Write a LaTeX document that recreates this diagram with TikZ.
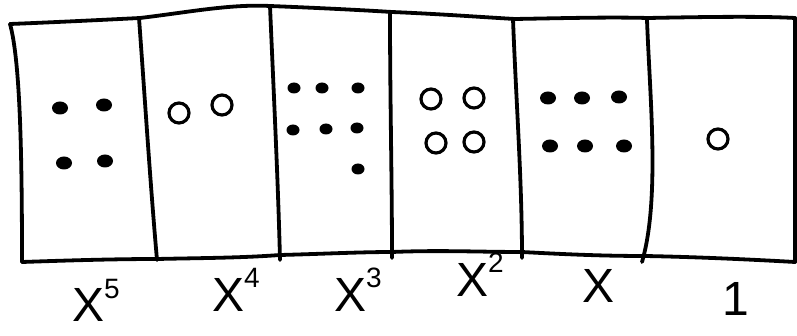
\documentclass[tikz,border=0pt]{standalone}
\usepackage{fontspec}
\setmainfont{Liberation Sans}
\usetikzlibrary{shapes.geometric}
\tikzset{
  ink/.style={line width=3.8pt, line cap=round, line join=round},
  fdot/.style={ellipse, fill=black, minimum width=16pt, minimum height=13pt, inner sep=0pt},
  sdot/.style={ellipse, fill=black, minimum width=13pt, minimum height=11pt, inner sep=0pt},
  hdot/.style={circle, draw=black, line width=3.2pt, minimum size=20pt, inner sep=0pt},
  lab/.style={font=\fontsize{48}{48}\selectfont, inner sep=0pt, anchor=base west},
}
\newcommand{\sexp}[1]{\raisebox{0.5em}{\fontsize{28}{28}\selectfont #1}}
\begin{document}
\begin{tikzpicture}[x=1pt,y=-1pt]
\useasboundingbox (0,0) rectangle (797,336);
% outer frame
\draw[ink] (10,24) .. controls (60,22) and (100,20) .. (140,18)
  .. controls (190,12) and (230,4) .. (270,6)
  .. controls (320,8) and (360,10) .. (392,12)
  .. controls (440,14) and (480,17) .. (515,19)
  .. controls (570,18) and (610,17) .. (648,18)
  .. controls (700,17) and (760,16) .. (795,18);
\draw[ink] (10,24) .. controls (20,60) and (22,150) .. (22,262);
\draw[ink] (22,262) .. controls (80,260) and (120,259) .. (157,259)
  .. controls (200,258) and (240,258) .. (280,255)
  .. controls (320,254) and (360,252) .. (392,252)
  .. controls (440,250) and (480,252) .. (522,252)
  .. controls (560,254) and (600,256) .. (645,256)
  .. controls (700,257) and (760,260) .. (795,262);
\draw[ink] (795,18) -- (795,262);
% dividers
\draw[ink] (139,18) .. controls (145,100) and (150,180) .. (157,260);
\draw[ink] (270,6) .. controls (274,100) and (278,180) .. (280,260);
\draw[ink] (390,12) .. controls (390,100) and (392,180) .. (392,258);
\draw[ink] (513,19) .. controls (516,100) and (522,180) .. (522,258);
\draw[ink] (647,20) .. controls (650,100) and (660,200) .. (642,262);
% column x^5
\node[fdot] (a1) at (60,108) {};
\node[fdot] (a2) at (104,105) {};
\node[fdot] (a3) at (64,163) {};
\node[fdot] (a4) at (105,161) {};
% column x^4
\node[hdot] (b1) at (179,113) {};
\node[hdot] (b2) at (222,105) {};
% column x^3
\node[sdot] (c1) at (294,88) {};
\node[sdot] (c2) at (322,88) {};
\node[sdot] (c3) at (358,88) {};
\node[sdot] (c4) at (293,130) {};
\node[sdot] (c5) at (326,129) {};
\node[sdot] (c6) at (357,128) {};
\node[sdot] (c7) at (358,169) {};
% column x^2
\node[hdot] (d1) at (431,99) {};
\node[hdot] (d2) at (474,98) {};
\node[hdot] (d3) at (436,143) {};
\node[hdot] (d4) at (474,142) {};
% column x
\node[fdot] (e1) at (548,98) {};
\node[fdot] (e2) at (582,98) {};
\node[fdot] (e3) at (619,97) {};
\node[fdot] (e4) at (550,146) {};
\node[fdot] (e5) at (585,146) {};
\node[fdot] (e6) at (624,146) {};
% column 1
\node[hdot] (f1) at (718,139) {};
% labels
\node[lab] (l5) at (72,322) {X\sexp{5}};
\node[lab] (l4) at (212,312) {X\sexp{4}};
\node[lab] (l3) at (334,312) {X\sexp{3}};
\node[lab] (l2) at (456,297) {X\sexp{2}};
\node[lab] (l1) at (582,302) {X};
\node[lab] (l0) at (722,316) {1};
\end{tikzpicture}
\end{document}
